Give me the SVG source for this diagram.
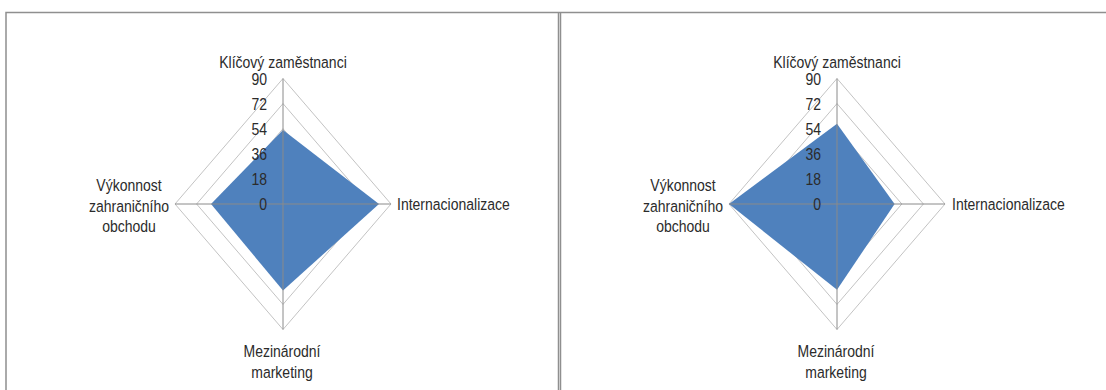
<svg xmlns="http://www.w3.org/2000/svg" width="1106" height="390" viewBox="0 0 1106 390">
  <style>
    .frame { fill: none; stroke: #8f8f8f; stroke-width: 1.5; }
    .ring { fill: none; stroke: #c3c3c3; stroke-width: 1; }
    .spoke { stroke: #8a8a8a; stroke-width: 1; }
    .area { fill: #4f81bd; stroke: none; }
    text { font-family: "Liberation Sans", Arial, sans-serif; font-size: 14px; fill: #2b2b2b;
           transform-box: fill-box; transform-origin: center; transform: scaleY(1.12); }
    .tick { text-anchor: end; }
    .mid { text-anchor: middle; }
  </style>

  <!-- chart borders -->
  <g id="frames">
    <path class="frame" d="M6 390 V12.5 H1106"/>
    <path class="frame" d="M558.5 12.5 V390"/>
    <path class="frame" d="M560.5 12.5 V390"/>
  </g>

  <!-- radar chart 1: centre (283,204), radius 108 x 125.5 -->
  <g id="radar-left">
    <g id="grid-left">
      <polygon class="ring" points="283,178.9 304.6,204 283,229.1 261.4,204"/>
      <polygon class="ring" points="283,153.8 326.2,204 283,254.2 239.8,204"/>
      <polygon class="ring" points="283,128.7 347.8,204 283,279.3 218.2,204"/>
      <polygon class="ring" points="283,103.6 369.4,204 283,304.4 196.6,204"/>
      <polygon class="ring" points="283,78.5 391,204 283,329.5 175,204"/>
    </g>
    <polygon id="series-left" class="area" points="283,130.1 379,204 283,290.5 211,204"/>
    <g id="axes-left">
      <line class="spoke" x1="283" y1="78.5" x2="283" y2="329.5"/>
      <line class="spoke" x1="175" y1="204" x2="391" y2="204"/>
    </g>
    <g id="ticks-left">
      <text class="tick" x="267" y="84">90</text>
      <text class="tick" x="267" y="109.1">72</text>
      <text class="tick" x="267" y="134.2">54</text>
      <text class="tick" x="267" y="159.3">36</text>
      <text class="tick" x="267" y="184.4">18</text>
      <text class="tick" x="267" y="209.5">0</text>
    </g>
    <g id="labels-left">
      <text class="mid" x="283" y="67">Klíčový zaměstnanci</text>
      <text x="397" y="209">Internacionalizace</text>
      <text class="mid" x="129" y="190.5">Výkonnost</text>
      <text class="mid" x="129" y="211">zahraničního</text>
      <text class="mid" x="129" y="231.5">obchodu</text>
      <text class="mid" x="282" y="356.5">Mezinárodní</text>
      <text class="mid" x="282" y="377">marketing</text>
    </g>
  </g>

  <!-- radar chart 2: centre (837,204), radius 108 x 125.5 -->
  <g id="radar-right">
    <g id="grid-right">
      <polygon class="ring" points="837,178.9 858.6,204 837,229.1 815.4,204"/>
      <polygon class="ring" points="837,153.8 880.2,204 837,254.2 793.8,204"/>
      <polygon class="ring" points="837,128.7 901.8,204 837,279.3 772.2,204"/>
      <polygon class="ring" points="837,103.6 923.4,204 837,304.4 750.6,204"/>
      <polygon class="ring" points="837,78.5 945,204 837,329.5 729,204"/>
    </g>
    <polygon id="series-right" class="area" points="837,123.8 894.6,204 837,289.8 729,204"/>
    <g id="axes-right">
      <line class="spoke" x1="837" y1="78.5" x2="837" y2="329.5"/>
      <line class="spoke" x1="729" y1="204" x2="945" y2="204"/>
    </g>
    <g id="ticks-right">
      <text class="tick" x="821" y="84">90</text>
      <text class="tick" x="821" y="109.1">72</text>
      <text class="tick" x="821" y="134.2">54</text>
      <text class="tick" x="821" y="159.3">36</text>
      <text class="tick" x="821" y="184.4">18</text>
      <text class="tick" x="821" y="209.5">0</text>
    </g>
    <g id="labels-right">
      <text class="mid" x="837" y="67">Klíčový zaměstnanci</text>
      <text x="952" y="209">Internacionalizace</text>
      <text class="mid" x="683" y="190.5">Výkonnost</text>
      <text class="mid" x="683" y="211">zahraničního</text>
      <text class="mid" x="683" y="231.5">obchodu</text>
      <text class="mid" x="836" y="356.5">Mezinárodní</text>
      <text class="mid" x="836" y="377">marketing</text>
    </g>
  </g>
</svg>
